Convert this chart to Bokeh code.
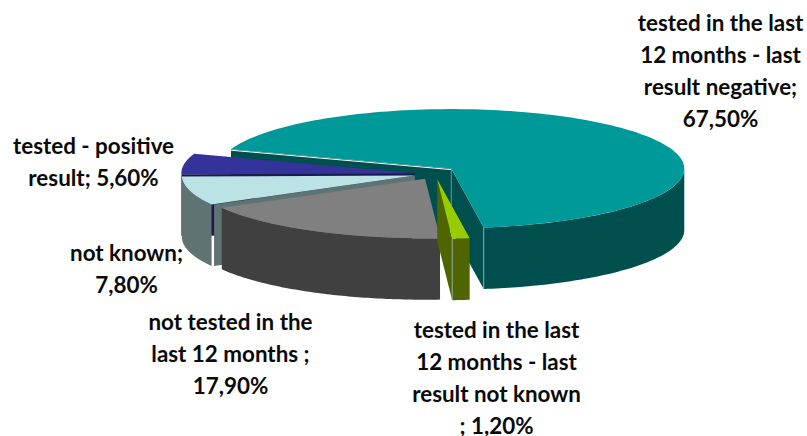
import numpy as np
from bokeh.plotting import figure
from bokeh.embed import file_html
from bokeh.resources import INLINE
from bokeh.core.properties import value

# --- data ---
categories = ["tested in the last 12 months - last result negative",
              "tested in the last 12 months - last result not known",
              "not tested in the last 12 months",
              "not known",
              "tested - positive result"]
shares = [67.5, 1.2, 17.9, 7.8, 5.6]
top_colors = ["#009999", "#99cc00", "#808080", "#bbe3e6", "#333399"]
side_colors = ["#004f4f", "#4f6600", "#404040", "#607373", "#1a1a4f"]
label_lines = [["tested in the last", "12 months - last", "result negative;", "67,50%"],
               ["tested in the last", "12 months - last", "result not known", "; 1,20%"],
               ["not tested in the", "last 12 months ;", "17,90%"],
               ["not known;", "7,80%"],
               ["tested - positive", "result; 5,60%"]]

# --- layout ---
CX, CY, RX, RY, DEPTH, EXPLODE = 434.6, 173.5, 233.0, 59.5, 61.5, 0.09
START = 199.0
LIFT = [-2, 0, 0, 0, 0]
CUT_SHIFT = [0, 0, 0, 2.5, 0]
CUT_SIDES = ["ab", "b", "", "a", "a"]
LABEL_POS = [(720, 22), (496, 329), (230, 321), (126, 252), (93, 145)]
LINE_GAP = 32
FONT = "Lato"
FONT_SIZE = "22.4px"

p = figure(width=807, height=436, x_range=(0, 807), y_range=(436, 0),
           output_backend="svg", toolbar_location=None, min_border=0,
           outline_line_color=None, background_fill_color="white")
p.axis.visible = False
p.grid.visible = False


def pt(apex, deg):
    r = np.radians(deg)
    return apex[0] + RX * np.cos(r), apex[1] + RY * np.sin(r)


angle = START
slices = []
for i, s in enumerate(shares):
    sweep = s / sum(shares) * 360
    a, b = angle, angle + sweep
    mid = np.radians((a + b) / 2)
    apex = (CX + EXPLODE * RX * np.cos(mid), CY + EXPLODE * RY * np.sin(mid) + LIFT[i])
    slices.append((i, a, b, apex))
    angle = b

# painter's order: back slices first
for i, a, b, apex in [slices[0], slices[4], slices[3], slices[2], slices[1]]:
    for side, deg in (("a", a), ("b", b)):
        if side not in CUT_SIDES[i]:
            continue
        ex, ey = pt(apex, deg)
        sh = CUT_SHIFT[i]
        p.patch([apex[0], ex + sh, ex + sh, apex[0]],
                [apex[1], ey, ey + DEPTH, apex[1] + DEPTH],
                fill_color=side_colors[i], line_color=None)
    # outer wall: visible part is the front half of the rim
    for k in (0, 1):
        lo, hi = max(a, k * 360), min(b, k * 360 + 180)
        if hi > lo:
            th = np.linspace(lo, hi, 80)
            xs = apex[0] + RX * np.cos(np.radians(th))
            ys = apex[1] + RY * np.sin(np.radians(th))
            p.patch(list(xs) + list(xs[::-1]), list(ys) + list(ys[::-1] + DEPTH),
                    fill_color=side_colors[i], line_color=None)
    # light seams on the vertical edges
    if i in (0, 1):
        ex, ey = pt(apex, b)
        p.line([ex, ex], [ey, ey + DEPTH], line_color="#8aa5a5", line_width=1)
    if i == 0:
        p.line([apex[0], apex[0]], [apex[1], apex[1] + DEPTH], line_color="#5f8f8f", line_width=1)
    # top surface
    th = np.linspace(a, b, 160)
    xs = [apex[0]] + list(apex[0] + RX * np.cos(np.radians(th)))
    ys = [apex[1]] + list(apex[1] + RY * np.sin(np.radians(th)))
    p.patch(xs, ys, fill_color=top_colors[i], line_color=None)
    if i == 0:
        ex, ey = pt(apex, a)
        p.line([ex, apex[0]], [ey + 1, apex[1] + 1], line_color="white", line_width=1)

for lines, (lx, ly) in zip(label_lines, LABEL_POS):
    p.text(x=[lx] * len(lines), y=[ly + j * LINE_GAP for j in range(len(lines))], text=lines,
           text_font=value(FONT), text_font_size=value(FONT_SIZE), text_font_style="bold",
           text_align="center", text_baseline="middle", text_color="#0a0a0a")

open("out.html", "w").write(file_html(p, INLINE))
